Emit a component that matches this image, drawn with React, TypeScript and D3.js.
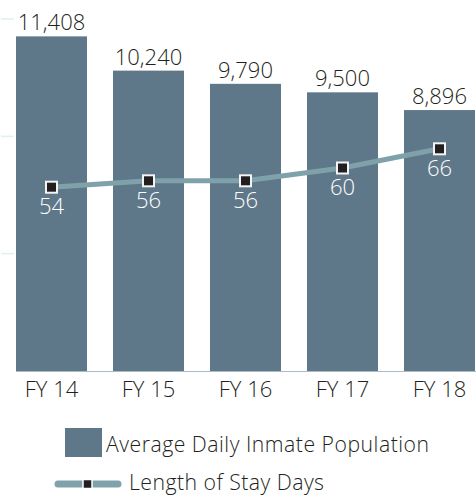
import { useEffect, useRef } from "react"
import * as d3 from "d3"

const years = ["FY 14", "FY 15", "FY 16", "FY 17", "FY 18"]
const population = [11408, 10240, 9790, 9500, 8896]
const stayDays = [54, 56, 56, 60, 66]
const gridTicks = [4000, 8000, 12000]

const barColor = "#5f7889"
const lineColor = "#7fa2aa"
const markColor = "#231f20"
const font = "'Open Sans', sans-serif"
const weight = 300

export default function App() {
    const ref = useRef<SVGSVGElement>(null)

    useEffect(() => {
        const width = 476
        const svg = d3.select(ref.current)
        svg.selectAll("*").remove()

        const x = d3.scaleBand().domain(years).range([16, 475]).paddingInner(0.268).paddingOuter(0)
        const y = d3.scaleLinear().domain([0, 12000]).range([371, 19])
        const y2 = d3.scaleLinear().domain([0, 100]).range([360, 40])
        const cx = (d: string) => x(d)! + x.bandwidth() / 2

        // faint grid stubs at left
        svg.append("g").selectAll("line").data(gridTicks).join("line")
            .attr("x1", 1).attr("x2", 14)
            .attr("y1", (d) => y(d)).attr("y2", (d) => y(d))
            .attr("stroke", "#e3eff1").attr("stroke-width", 1.5)

        svg.append("g").selectAll("rect").data(population).join("rect")
            .attr("x", (d, i) => x(years[i])!)
            .attr("y", (d) => y(d))
            .attr("width", x.bandwidth())
            .attr("height", (d) => y(0) - y(d))
            .attr("fill", barColor)

        svg.append("line")
            .attr("x1", x(years[0])!).attr("x2", width)
            .attr("y1", y(0) + 0.5).attr("y2", y(0) + 0.5)
            .attr("stroke", "#a9bcc6").attr("stroke-width", 1)

        svg.append("g").selectAll("text").data(population).join("text")
            .attr("x", (d, i) => cx(years[i]))
            .attr("y", (d) => y(d) - 6)
            .attr("text-anchor", "middle")
            .attr("font-family", font).attr("font-size", 22).attr("font-weight", weight)
            .attr("fill", markColor)
            .text((d) => d3.format(",")(d))

        const line = d3.line<number>()
            .x((d, i) => cx(years[i]))
            .y((d) => y2(d))

        svg.append("path")
            .attr("d", line(stayDays))
            .attr("fill", "none")
            .attr("stroke", lineColor)
            .attr("stroke-width", 5)

        svg.append("g").selectAll("rect").data(stayDays).join("rect")
            .attr("x", (d, i) => cx(years[i]) - 5.5)
            .attr("y", (d) => y2(d) - 5.5)
            .attr("width", 11).attr("height", 11)
            .attr("fill", markColor)
            .attr("stroke", "#f4f4f4").attr("stroke-width", 2)

        svg.append("g").selectAll("text").data(stayDays).join("text")
            .attr("x", (d, i) => cx(years[i]))
            .attr("y", (d) => y2(d) + 27)
            .attr("text-anchor", "middle")
            .attr("font-family", font).attr("font-size", 22).attr("font-weight", weight)
            .attr("fill", "#ffffff")
            .text((d) => d)

        const xAxis = d3.axisBottom(x).tickSize(0).tickPadding(0)
        const ax = svg.append("g")
            .attr("transform", `translate(0, ${y(0)})`)
            .call(xAxis)
        ax.select(".domain").remove()
        ax.selectAll("text")
            .attr("dy", 0).attr("y", 26)
            .attr("font-family", font).attr("font-size", 22).attr("font-weight", weight)
            .attr("fill", markColor)

        // legend
        const lg = svg.append("g")
        lg.append("rect")
            .attr("x", 65).attr("y", 428).attr("width", 37).attr("height", 29)
            .attr("fill", barColor)
        lg.append("text")
            .attr("x", 106).attr("y", 452)
            .attr("font-family", font).attr("font-size", 21.2).attr("font-weight", weight)
            .attr("fill", markColor)
            .attr("textLength", 323)
            .text("Average Daily Inmate Population")
        lg.append("line")
            .attr("x1", 58).attr("x2", 118).attr("y1", 484).attr("y2", 484)
            .attr("stroke", lineColor).attr("stroke-width", 7)
            .attr("stroke-linecap", "round")
        lg.append("rect")
            .attr("x", 83).attr("y", 479.5).attr("width", 9).attr("height", 9)
            .attr("fill", markColor)
            .attr("stroke", "#ffffff").attr("stroke-width", 1.5)
        lg.append("text")
            .attr("x", 129).attr("y", 490)
            .attr("font-family", font).attr("font-size", 21.3).attr("font-weight", weight)
            .attr("fill", markColor)
            .attr("textLength", 195)
            .text("Length of Stay Days")
    }, [])

    return (
        <div style={{ position: "absolute", left: 0, top: 0 }}>
            <svg ref={ref} width={476} height={496}></svg>
        </div>
    )
}
